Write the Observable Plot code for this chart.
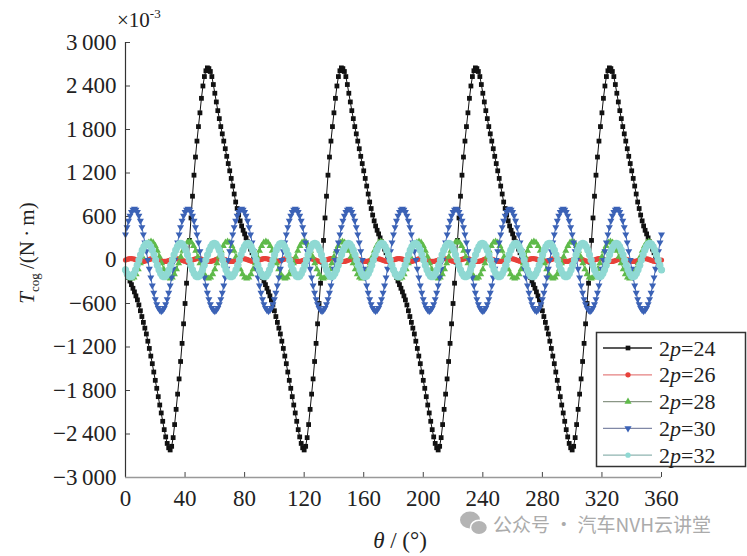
<!DOCTYPE html>
<html>
<head>
<meta charset="utf-8">
<script src="https://cdn.jsdelivr.net/npm/d3@7"></script>
<script src="https://cdn.jsdelivr.net/npm/@observablehq/plot@0.6"></script>
<style>
  html, body { margin: 0; padding: 0; background: #fff; }
  #chart { position: relative; width: 747px; height: 556px; }
</style>
</head>
<body>
<div id="chart"></div>
<script>
// ---------- data ----------
const seriesNames = ["2p=24", "2p=26", "2p=28", "2p=30", "2p=32"];
const xTicks = [0, 40, 80, 120, 160, 200, 240, 280, 320, 360];
const yTicks = [3000, 2400, 1800, 1200, 600, 0, -600, -1200, -1800, -2400, -3000];

// angular step (degrees) between successive samples of each series
const step24 = 1, step26 = 1, step28 = 360 / 252, step30 = 1, step32 = 1.125;

// 2p=24 cogging torque (x10^-3 N·m), one sample per degree 0..360
const t24 = [
-140,-190,-240,-290,-340,-390,-440,-495,-550,-620,-700,-780,-860,-940,-1020,-1120,-1220,-1325,-1430,-1545,-1660,-1770,-1885,-2000,-2110,-2225,-2340,-2440,-2530,-2590,-2620,-2570,-2450,-2270,-2060,-1850,-1640,-1400,-1150,-880,-600,-320,-30,270,580,880,1170,1420,1640,1840,2030,2230,2400,2530,2610,2650,2640,2600,2530,2420,2300,2180,2060,1950,1840,1740,1640,1535,1430,1330,1230,1125,1020,910,800,710,620,540,470,410,360,305,250,200,150,100,55,5,-45,-95,
-140,-190,-240,-290,-340,-390,-440,-495,-550,-620,-700,-780,-860,-940,-1020,-1120,-1220,-1325,-1430,-1545,-1660,-1770,-1885,-2000,-2110,-2225,-2340,-2440,-2530,-2590,-2620,-2570,-2450,-2270,-2060,-1850,-1640,-1400,-1150,-880,-600,-320,-30,270,580,880,1170,1420,1640,1840,2030,2230,2400,2530,2610,2650,2640,2600,2530,2420,2300,2180,2060,1950,1840,1740,1640,1535,1430,1330,1230,1125,1020,910,800,710,620,540,470,410,360,305,250,200,150,100,55,5,-45,-95,
-140,-190,-240,-290,-340,-390,-440,-495,-550,-620,-700,-780,-860,-940,-1020,-1120,-1220,-1325,-1430,-1545,-1660,-1770,-1885,-2000,-2110,-2225,-2340,-2440,-2530,-2590,-2620,-2570,-2450,-2270,-2060,-1850,-1640,-1400,-1150,-880,-600,-320,-30,270,580,880,1170,1420,1640,1840,2030,2230,2400,2530,2610,2650,2640,2600,2530,2420,2300,2180,2060,1950,1840,1740,1640,1535,1430,1330,1230,1125,1020,910,800,710,620,540,470,410,360,305,250,200,150,100,55,5,-45,-95,
-140,-190,-240,-290,-340,-390,-440,-495,-550,-620,-700,-780,-860,-940,-1020,-1120,-1220,-1325,-1430,-1545,-1660,-1770,-1885,-2000,-2110,-2225,-2340,-2440,-2530,-2590,-2620,-2570,-2450,-2270,-2060,-1850,-1640,-1400,-1150,-880,-600,-320,-30,270,580,880,1170,1420,1640,1840,2030,2230,2400,2530,2610,2650,2640,2600,2530,2420,2300,2180,2060,1950,1840,1740,1640,1535,1430,1330,1230,1125,1020,910,800,710,620,540,470,410,360,305,250,200,150,100,55,5,-45,-95,
-140
];

// 2p=26, one sample per degree
const t26 = [
0,8,15,19,20,17,12,4,-4,-12,-17,-20,-19,-15,-8,
0,8,15,19,20,17,12,4,-4,-12,-17,-20,-19,-15,-8,
0,8,15,19,20,17,12,4,-4,-12,-17,-20,-19,-15,-8,
0,8,15,19,20,17,12,4,-4,-12,-17,-20,-19,-15,-8,
0,8,15,19,20,17,12,4,-4,-12,-17,-20,-19,-15,-8,
0,8,15,19,20,17,12,4,-4,-12,-17,-20,-19,-15,-8,
0,8,15,19,20,17,12,4,-4,-12,-17,-20,-19,-15,-8,
0,8,15,19,20,17,12,4,-4,-12,-17,-20,-19,-15,-8,
0,8,15,19,20,17,12,4,-4,-12,-17,-20,-19,-15,-8,
0,8,15,19,20,17,12,4,-4,-12,-17,-20,-19,-15,-8,
0,8,15,19,20,17,12,4,-4,-12,-17,-20,-19,-15,-8,
0,8,15,19,20,17,12,4,-4,-12,-17,-20,-19,-15,-8,
0,8,15,19,20,17,12,4,-4,-12,-17,-20,-19,-15,-8,
0,8,15,19,20,17,12,4,-4,-12,-17,-20,-19,-15,-8,
0,8,15,19,20,17,12,4,-4,-12,-17,-20,-19,-15,-8,
0,8,15,19,20,17,12,4,-4,-12,-17,-20,-19,-15,-8,
0,8,15,19,20,17,12,4,-4,-12,-17,-20,-19,-15,-8,
0,8,15,19,20,17,12,4,-4,-12,-17,-20,-19,-15,-8,
0,8,15,19,20,17,12,4,-4,-12,-17,-20,-19,-15,-8,
0,8,15,19,20,17,12,4,-4,-12,-17,-20,-19,-15,-8,
0,8,15,19,20,17,12,4,-4,-12,-17,-20,-19,-15,-8,
0,8,15,19,20,17,12,4,-4,-12,-17,-20,-19,-15,-8,
0,8,15,19,20,17,12,4,-4,-12,-17,-20,-19,-15,-8,
0,8,15,19,20,17,12,4,-4,-12,-17,-20,-19,-15,-8,
0
];

// 2p=28, sample every 360/252 degrees
const t28 = [
-128,-195,-240,-255,-240,-195,-128,-44,44,128,195,240,255,240,195,128,44,-44,
-128,-195,-240,-255,-240,-195,-128,-44,44,128,195,240,255,240,195,128,44,-44,
-128,-195,-240,-255,-240,-195,-128,-44,44,128,195,240,255,240,195,128,44,-44,
-128,-195,-240,-255,-240,-195,-128,-44,44,128,195,240,255,240,195,128,44,-44,
-128,-195,-240,-255,-240,-195,-128,-44,44,128,195,240,255,240,195,128,44,-44,
-128,-195,-240,-255,-240,-195,-128,-44,44,128,195,240,255,240,195,128,44,-44,
-128,-195,-240,-255,-240,-195,-128,-44,44,128,195,240,255,240,195,128,44,-44,
-128,-195,-240,-255,-240,-195,-128,-44,44,128,195,240,255,240,195,128,44,-44,
-128,-195,-240,-255,-240,-195,-128,-44,44,128,195,240,255,240,195,128,44,-44,
-128,-195,-240,-255,-240,-195,-128,-44,44,128,195,240,255,240,195,128,44,-44,
-128,-195,-240,-255,-240,-195,-128,-44,44,128,195,240,255,240,195,128,44,-44,
-128,-195,-240,-255,-240,-195,-128,-44,44,128,195,240,255,240,195,128,44,-44,
-128,-195,-240,-255,-240,-195,-128,-44,44,128,195,240,255,240,195,128,44,-44,
-128,-195,-240,-255,-240,-195,-128,-44,44,128,195,240,255,240,195,128,44,-44,
-128
];

// 2p=30, one sample per degree
const t30 = [
353,453,540,611,662,694,705,694,662,611,540,453,353,241,122,0,-122,-241,-353,-453,-540,-611,-662,-694,-705,-694,-662,-611,-540,-453,-353,-241,-122,0,122,241,
353,453,540,611,662,694,705,694,662,611,540,453,353,241,122,0,-122,-241,-353,-453,-540,-611,-662,-694,-705,-694,-662,-611,-540,-453,-353,-241,-122,0,122,241,
353,453,540,611,662,694,705,694,662,611,540,453,353,241,122,0,-122,-241,-353,-453,-540,-611,-662,-694,-705,-694,-662,-611,-540,-453,-353,-241,-122,0,122,241,
353,453,540,611,662,694,705,694,662,611,540,453,353,241,122,0,-122,-241,-353,-453,-540,-611,-662,-694,-705,-694,-662,-611,-540,-453,-353,-241,-122,0,122,241,
353,453,540,611,662,694,705,694,662,611,540,453,353,241,122,0,-122,-241,-353,-453,-540,-611,-662,-694,-705,-694,-662,-611,-540,-453,-353,-241,-122,0,122,241,
353,453,540,611,662,694,705,694,662,611,540,453,353,241,122,0,-122,-241,-353,-453,-540,-611,-662,-694,-705,-694,-662,-611,-540,-453,-353,-241,-122,0,122,241,
353,453,540,611,662,694,705,694,662,611,540,453,353,241,122,0,-122,-241,-353,-453,-540,-611,-662,-694,-705,-694,-662,-611,-540,-453,-353,-241,-122,0,122,241,
353,453,540,611,662,694,705,694,662,611,540,453,353,241,122,0,-122,-241,-353,-453,-540,-611,-662,-694,-705,-694,-662,-611,-540,-453,-353,-241,-122,0,122,241,
353,453,540,611,662,694,705,694,662,611,540,453,353,241,122,0,-122,-241,-353,-453,-540,-611,-662,-694,-705,-694,-662,-611,-540,-453,-353,-241,-122,0,122,241,
353,453,540,611,662,694,705,694,662,611,540,453,353,241,122,0,-122,-241,-353,-453,-540,-611,-662,-694,-705,-694,-662,-611,-540,-453,-353,-241,-122,0,122,241,
353
];

// 2p=32, sample every 1.125 degrees
const t32 = [
-135,-186,-219,-230,-219,-186,-135,-71,0,71,135,186,219,230,219,186,135,71,0,-71,
-135,-186,-219,-230,-219,-186,-135,-71,0,71,135,186,219,230,219,186,135,71,0,-71,
-135,-186,-219,-230,-219,-186,-135,-71,0,71,135,186,219,230,219,186,135,71,0,-71,
-135,-186,-219,-230,-219,-186,-135,-71,0,71,135,186,219,230,219,186,135,71,0,-71,
-135,-186,-219,-230,-219,-186,-135,-71,0,71,135,186,219,230,219,186,135,71,0,-71,
-135,-186,-219,-230,-219,-186,-135,-71,0,71,135,186,219,230,219,186,135,71,0,-71,
-135,-186,-219,-230,-219,-186,-135,-71,0,71,135,186,219,230,219,186,135,71,0,-71,
-135,-186,-219,-230,-219,-186,-135,-71,0,71,135,186,219,230,219,186,135,71,0,-71,
-135,-186,-219,-230,-219,-186,-135,-71,0,71,135,186,219,230,219,186,135,71,0,-71,
-135,-186,-219,-230,-219,-186,-135,-71,0,71,135,186,219,230,219,186,135,71,0,-71,
-135,-186,-219,-230,-219,-186,-135,-71,0,71,135,186,219,230,219,186,135,71,0,-71,
-135,-186,-219,-230,-219,-186,-135,-71,0,71,135,186,219,230,219,186,135,71,0,-71,
-135,-186,-219,-230,-219,-186,-135,-71,0,71,135,186,219,230,219,186,135,71,0,-71,
-135,-186,-219,-230,-219,-186,-135,-71,0,71,135,186,219,230,219,186,135,71,0,-71,
-135,-186,-219,-230,-219,-186,-135,-71,0,71,135,186,219,230,219,186,135,71,0,-71,
-135,-186,-219,-230,-219,-186,-135,-71,0,71,135,186,219,230,219,186,135,71,0,-71,
-135
];

// ---------- styles ----------
const styles = [
  {values: t24, step: step24, color: "#111111", line: "#111111", legendLine: "#222", symbol: "square",   r: 2.7, rotate: 0,   d3sym: d3.symbolSquare},
  {values: t26, step: step26, color: "#e8413a", line: "#e8413a", legendLine: "#e58080", symbol: "circle",   r: 2.6, rotate: 0,   d3sym: d3.symbolCircle},
  {values: t28, step: step28, color: "#5fba4a", line: "#5fba4a", legendLine: "#8a9686", symbol: "triangle", r: 2.6, rotate: 0,   d3sym: d3.symbolTriangle},
  {values: t30, step: step30, color: "#3b62b6", line: "#3b62b6", legendLine: "#8088a6", symbol: "triangle", r: 2.6, rotate: 180, d3sym: d3.symbolTriangle},
  {values: t32, step: step32, color: "#8fd9d3", line: "#8fd9d3", legendLine: "#8fb4b0", symbol: "circle",   r: 3.6, rotate: 0,   d3sym: d3.symbolCircle}
];

const rowsOf = (s, name) => s.values.map((v, i) => ({theta: i * s.step, T: v, series: name}));

const fmtY = d => {
  if (d === 0) return "0";
  const a = Math.abs(d);
  const s = a >= 1000 ? Math.floor(a / 1000) + "\u2009" + String(a % 1000).padStart(3, "0") : String(a);
  return (d < 0 ? "\u2212" : "") + s;
};

const FONT = "'Liberation Serif', 'DejaVu Serif', serif";

const marks = [];
styles.forEach((s, k) => {
  const rows = rowsOf(s, seriesNames[k]);
  marks.push(Plot.line(rows, {x: "theta", y: "T", stroke: s.line, strokeWidth: 1}));
  marks.push(Plot.dot(rows, {x: "theta", y: "T", symbol: s.symbol, fill: s.color, r: s.r, rotate: s.rotate, stroke: "none"}));
});

const chart = Plot.plot({
  width: 747,
  height: 556,
  marginLeft: 125,
  marginRight: 86,
  marginTop: 42,
  marginBottom: 79,
  style: {fontFamily: FONT, background: "white", overflow: "visible", color: "#222"},
  x: {domain: [0, 360]},
  y: {domain: [-3000, 3000]},
  marks: [
    Plot.tickX(xTicks, {x: d => d, stroke: "#444", strokeWidth: 1, insetTop: 430}),
    Plot.tickY(yTicks, {y: d => d, stroke: "#444", strokeWidth: 1, insetRight: 531}),
    ...marks,
    Plot.ruleX([0], {stroke: "#333", strokeWidth: 1.2}),
    Plot.ruleY([-3000], {stroke: "#999", strokeWidth: 1.4}),
    Plot.axisX(xTicks, {tickSize: 0, tickPadding: 12, fontSize: 23, fontFamily: FONT, fill: "#222", label: null, tickFormat: d => String(d)}),
    Plot.axisY(yTicks, {tickSize: 0, tickPadding: 9, fontSize: 23, fontFamily: FONT, fill: "#222", label: null, tickFormat: fmtY})
  ]
});

document.getElementById("chart").appendChild(chart);

// force the serif face on every text Plot drew
d3.select(chart).selectAll("text").style("font-family", FONT);

// ---------- titles, legend, watermark (text only) ----------
const svg = d3.select(chart);

// ×10^-3
const mult = svg.append("text").attr("x", 117).attr("y", 27)
  .attr("text-anchor", "start")
  .style("font-family", FONT).attr("font-size", 21).attr("fill", "#222");
mult.append("tspan").text("×10");
mult.append("tspan").attr("font-size", 13).attr("dy", -9).text("-3");

// y title
const yt = svg.append("text")
  .attr("transform", "translate(34,253) rotate(-90)")
  .attr("text-anchor", "middle")
  .style("font-family", FONT).attr("font-size", 21).attr("fill", "#222");
yt.append("tspan").attr("font-style", "italic").text("T");
yt.append("tspan").attr("font-size", 13).attr("dy", 5).text("cog");
yt.append("tspan").attr("dy", -5).text("\u2009/(N\u2009·\u2009m)");

// x title
const xt = svg.append("text").attr("x", 400).attr("y", 548)
  .attr("text-anchor", "middle")
  .style("font-family", FONT).attr("font-size", 23).attr("fill", "#222");
xt.append("tspan").attr("font-style", "italic").text("θ");
xt.append("tspan").text(" / (°)");

// legend
const lg = svg.append("g");
lg.append("rect").attr("x", 596.5).attr("y", 332.5).attr("width", 149).attr("height", 134)
  .attr("fill", "white").attr("stroke", "#333").attr("stroke-width", 1.5);
styles.forEach((s, i) => {
  const y = 348 + i * 26.8;
  lg.append("line").attr("x1", 603).attr("x2", 652).attr("y1", y).attr("y2", y)
    .attr("stroke", s.legendLine).attr("stroke-width", 1.3);
  lg.append("path")
    .attr("d", d3.symbol(s.d3sym, 22)())
    .attr("transform", `translate(628,${y}) rotate(${s.rotate})`)
    .attr("fill", s.color);
  const t = lg.append("text").attr("x", 659).attr("y", y + 7.5)
    .attr("text-anchor", "start")
    .style("font-family", FONT).attr("font-size", 22).attr("fill", "#222");
  const parts = seriesNames[i].split("p");
  t.append("tspan").text(parts[0]);
  t.append("tspan").attr("font-style", "italic").text("p");
  t.append("tspan").text(parts[1]);
});

// watermark
const wm = svg.append("g");
wm.append("ellipse").attr("cx", 470).attr("cy", 520).attr("rx", 10).attr("ry", 8.5).attr("fill", "#b4b4b4");
wm.append("ellipse").attr("cx", 479).attr("cy", 527.5).attr("rx", 8.5).attr("ry", 7.2).attr("fill", "#b4b4b4").attr("stroke", "white").attr("stroke-width", 1.5);
wm.append("text").attr("x", 493).attr("y", 532)
  .attr("text-anchor", "start")
  .style("font-family", "'Noto Sans CJK SC', 'Noto Sans', sans-serif")
  .attr("font-size", 19).attr("fill", "#ababab")
  .text("公众号 · 汽车NVH云讲堂");
</script>
</body>
</html>
